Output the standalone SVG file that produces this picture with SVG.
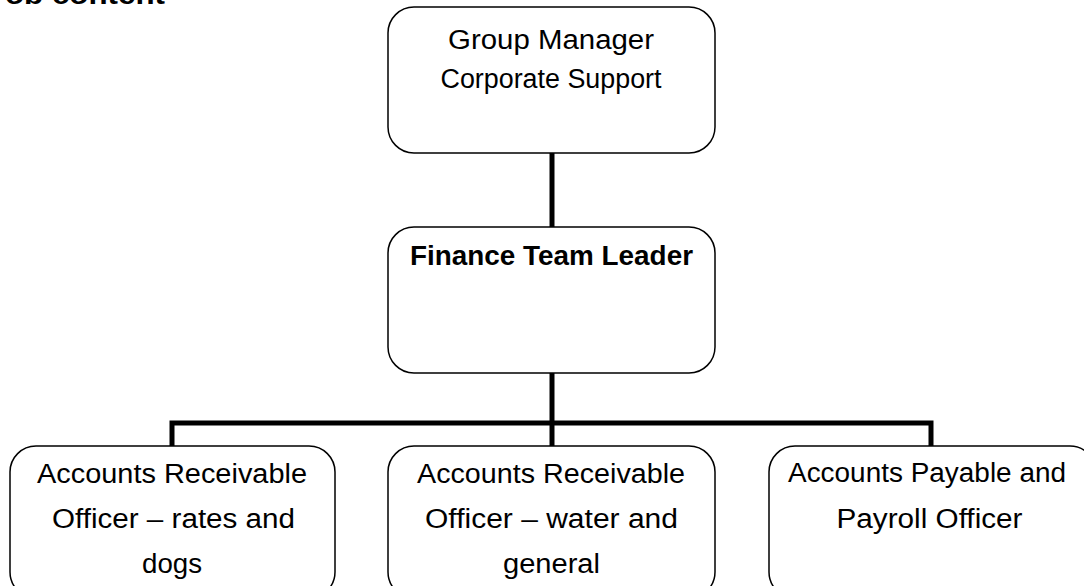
<svg xmlns="http://www.w3.org/2000/svg" width="1084" height="586" viewBox="0 0 1084 586">
<style>
.box{fill:#fff;stroke:#000;stroke-width:1.5}
.conn{fill:none;stroke:#000;stroke-width:5;stroke-linejoin:miter;stroke-linecap:butt}
text{font-family:"Liberation Sans",Arial,sans-serif;font-size:27px;fill:#000;text-anchor:middle}
.b{font-weight:bold}
</style>
<rect width="1084" height="586" fill="#fff"/>
<text class="b" x="5" y="3.5" style="text-anchor:start;font-size:28px" textLength="160" lengthAdjust="spacingAndGlyphs">ob content</text>
<g id="connectors">
<path class="conn" d="M552,153 V227"/>
<path class="conn" d="M552,373 V446"/>
<path class="conn" d="M172,446 V423 H931 V446"/>
</g>
<g id="group-manager">
<rect class="box" x="388" y="7" width="327" height="146" rx="26"/>
<text x="551" y="49" textLength="206" lengthAdjust="spacingAndGlyphs">Group Manager</text>
<text x="551" y="88" textLength="221" lengthAdjust="spacingAndGlyphs">Corporate Support</text>
</g>
<g id="finance-team-leader">
<rect class="box" x="388" y="227" width="327" height="146" rx="26"/>
<text class="b" x="551.5" y="265" textLength="283" lengthAdjust="spacingAndGlyphs">Finance Team Leader</text>
</g>
<g id="ar-rates-dogs">
<rect class="box" x="10" y="446" width="325" height="152" rx="26"/>
<text x="172" y="483" textLength="270" lengthAdjust="spacingAndGlyphs">Accounts Receivable</text>
<text x="173.5" y="528" textLength="243" lengthAdjust="spacingAndGlyphs">Officer – rates and</text>
<text x="172" y="573" textLength="60" lengthAdjust="spacingAndGlyphs">dogs</text>
</g>
<g id="ar-water-general">
<rect class="box" x="388" y="446" width="327" height="152" rx="26"/>
<text x="551" y="483" textLength="268" lengthAdjust="spacingAndGlyphs">Accounts Receivable</text>
<text x="551.5" y="528" textLength="253" lengthAdjust="spacingAndGlyphs">Officer – water and</text>
<text x="551.5" y="573" textLength="97" lengthAdjust="spacingAndGlyphs">general</text>
</g>
<g id="ap-payroll">
<rect class="box" x="769" y="446" width="327" height="152" rx="26"/>
<text x="927" y="482" textLength="278" lengthAdjust="spacingAndGlyphs">Accounts Payable and</text>
<text x="929.5" y="528" textLength="186" lengthAdjust="spacingAndGlyphs">Payroll Officer</text>
</g>
</svg>
